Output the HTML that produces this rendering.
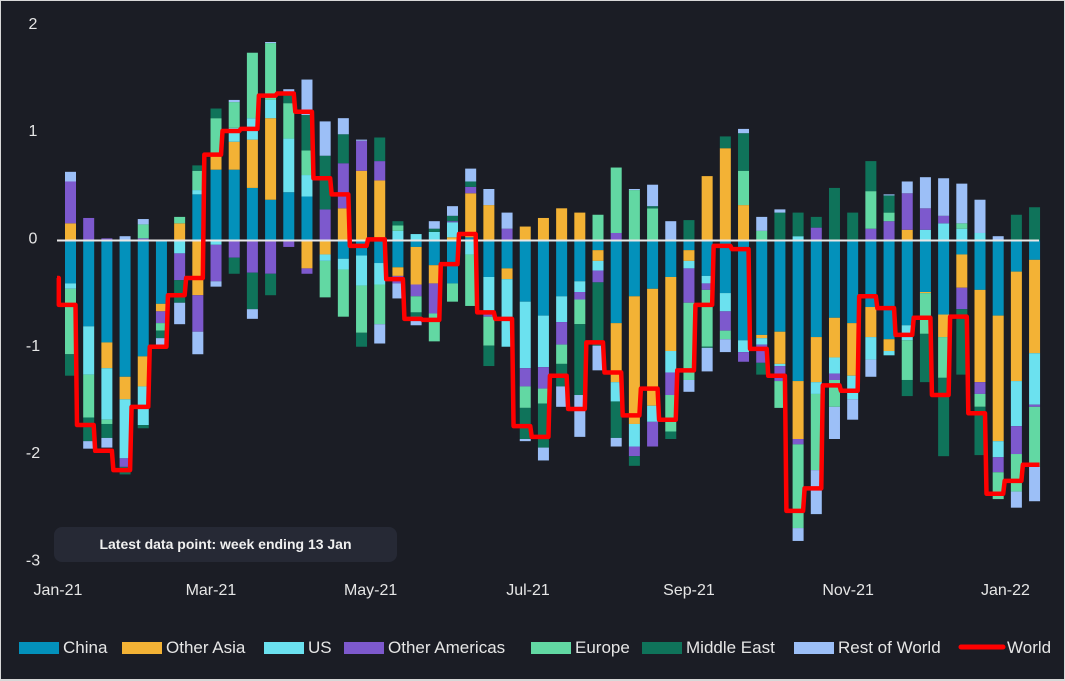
<!DOCTYPE html>
<html><head><meta charset="utf-8"><style>
html,body{margin:0;padding:0;background:#1b1d25;}
#wrap{position:relative;width:1065px;height:681px;background:#1b1d25;box-sizing:border-box;border:1px solid #d8d8d8;border-bottom:2px solid #d8d8d8;overflow:hidden;font-family:"Liberation Sans",sans-serif;}
svg text{font-family:"Liberation Sans",sans-serif;}
</style></head><body>
<div id="wrap">
<svg id="chart" width="1065" height="681" viewBox="0 0 1065 681"></svg>
</div>
<script>
const seriesNames=["China","Other Asia","US","Other Americas","Europe","Middle East","Rest of World"];
const seriesColors=["#0391bb","#f3b235","#6be1ef","#7d59cd","#62d8a3","#0f735a","#9cbff7"];
const china=[-0.40,-0.80,-0.95,-1.27,-1.08,-0.59,0,0.43,0.66,0.66,0.49,0.38,0.45,0.41,0,-0.17,-0.14,-0.21,-0.25,-0.06,-0.23,-0.40,0.03,-0.34,-0.26,-0.57,-0.70,-0.52,-0.38,-0.09,-0.77,-0.52,-0.45,-0.34,-0.09,-0.33,-0.49,-0.93,-0.88,-0.85,-1.31,-0.90,-0.72,-0.77,-0.62,-0.92,-0.79,-0.48,-0.69,-0.13,-0.46,-0.70,-0.29,-0.18];
const otherAsia=[0.16,0,-0.24,-0.21,-0.28,-0.07,0.16,-0.51,0.14,0.26,0.45,0.76,0,-0.26,-0.13,0.30,0.65,0.56,-0.08,-0.35,-0.17,0.03,0.41,0.33,-0.10,0.13,0.21,0.30,0.26,-0.10,-0.55,-1.19,-1.09,-0.69,-0.10,0.60,0.86,0.33,-0.03,-0.30,-0.54,-0.42,-0.37,-0.49,-0.28,-0.11,0.10,-0.01,-0.21,-0.31,-0.86,-1.17,-1.02,-0.87];
const us=[-0.05,-0.45,-0.48,-0.55,-0.36,0,-0.12,0.04,-0.04,0.13,0.20,0.17,0.50,0.20,-0.06,-0.10,-0.28,-0.20,0.09,0.06,0.08,0.14,-0.13,-0.32,-0.63,-0.62,-0.48,-0.24,-0.10,-0.09,-0.18,-0.21,-0.15,-0.20,-0.07,-0.07,-0.17,-0.11,-0.06,-0.02,0.04,-0.11,-0.15,-0.22,-0.21,-0.04,-0.14,0.10,0.16,0.11,0.07,-0.15,-0.42,-0.48];
const otherAmericas=[0.39,0.21,0.02,-0.08,0.02,-0.11,-0.25,-0.34,-0.34,-0.16,-0.30,-0.31,-0.06,-0.05,0.29,0.42,0.28,0.18,-0.07,-0.11,-0.28,0.01,0.06,-0.05,0.11,-0.17,-0.20,-0.21,-0.07,-0.11,0.07,-0.09,-0.23,-0.21,-0.32,-0.06,-0.18,-0.09,-0.17,-0.14,-0.05,0.12,-0.06,0,0.11,0.18,0.34,0.20,0.07,-0.20,-0.11,-0.14,-0.26,-0.02];
const europe=[-0.61,-0.40,-0.04,0,0.13,-0.07,0.06,0.18,0.34,0.24,0.61,0.53,0.33,0.23,-0.34,-0.44,-0.44,-0.37,0.05,-0.15,-0.26,-0.17,-0.48,-0.27,0,-0.20,-0.14,-0.18,-0.23,0.24,0.61,0.47,0.30,-0.34,-0.72,-0.53,-0.08,0.32,0.09,-0.25,-0.78,-0.71,-0.25,0,0.35,0.08,-0.37,-0.38,-0.38,0.05,-0.12,-0.25,-0.35,-0.56];
const middleEast=[-0.20,-0.22,-0.13,-0.07,-0.03,-0.07,-0.21,0.05,0.09,-0.15,-0.34,-0.20,0.08,0.33,0.50,0.27,-0.13,0.22,0.04,-0.04,0.03,0.05,0.05,-0.19,0,-0.29,-0.41,-0.21,-0.66,-0.59,-0.34,-0.09,0.02,-0.07,0.19,-0.01,0.11,0.35,-0.11,0.26,0.22,0.10,0.49,0.26,0.28,0.16,-0.15,-0.45,-0.73,-0.61,-0.45,0,0.24,0.31];
const restOfWorld=[0.09,-0.07,-0.09,0.04,0.05,-0.07,-0.20,-0.21,-0.05,0.02,-0.09,0.01,0.05,0.33,0.32,0.15,0.01,-0.18,-0.14,-0.08,0.07,0.09,0.12,0.15,0.15,-0.02,-0.12,-0.19,-0.39,-0.23,-0.08,0.01,0.20,0.18,-0.11,-0.22,-0.12,0.04,0.13,0.03,-0.12,-0.41,-0.30,-0.19,-0.16,0.01,0.11,0.29,0.35,0.37,0.31,0.04,-0.15,-0.32];
const world=[-0.60,-1.72,-1.96,-2.14,-1.55,-0.99,-0.51,-0.35,0.80,1.02,1.04,1.35,1.37,1.20,0.58,0.43,-0.05,0.01,-0.36,-0.73,-0.74,-0.22,0.06,-0.67,-0.73,-1.73,-1.83,-1.26,-1.57,-0.95,-1.23,-1.63,-1.38,-1.67,-1.21,-0.60,-0.05,-0.08,-1.01,-1.26,-2.52,-2.31,-1.35,-1.40,-0.52,-0.63,-0.88,-0.72,-1.44,-0.71,-1.61,-2.36,-2.24,-2.09];
const worldStart=-0.35;
const yTicks=[2,1,0,-1,-2,-3];
const xTickLabels=["Jan-21","Mar-21","May-21","Jul-21","Sep-21","Nov-21","Jan-22"];
const xTickWeeks=[-0.69,7.72,16.5,25.15,34.0,42.75,51.4];

const series=[china,otherAsia,us,otherAmericas,europe,middleEast,restOfWorld];
const NS="http://www.w3.org/2000/svg";
const svg=document.getElementById('chart');
const X0=69.5,DX=18.19,BW=11,Y0=239.5,PU=107.3;
const xs=i=>X0+i*DX;
const ys=v=>Y0-v*PU;
function mk(tag,attrs,parent){const e=document.createElementNS(NS,tag);for(const k in attrs)e.setAttribute(k,attrs[k]);(parent||svg).appendChild(e);return e;}

const yAxis=mk('g',{});


yTicks.forEach(t=>{const tx=mk('text',{x:32,y:ys(t)+3,'text-anchor':'middle','font-size':16,fill:'#e6e6e6'},yAxis);tx.textContent=t;

});

const xAxis=mk('g',{});


xTickLabels.forEach((l,i)=>{const tx=mk('text',{x:xs(xTickWeeks[i]),y:594,'text-anchor':'middle','font-size':16,fill:'#e6e6e6'},xAxis);tx.textContent=l;

});

const bars=mk('g',{});


for(let i=0;i<world.length;i++){
  let pos=0,neg=0;
  series.forEach((s,k)=>{
    const v=s[i];if(!v)return;
    let y1,y2;
    if(v>0){y1=ys(pos+v);y2=ys(pos);pos+=v;}else{y1=ys(neg);y2=ys(neg+v);neg+=v;}
    const r=mk('rect',{x:xs(i)-BW/2,y:y1,width:BW,height:Math.max(0,y2-y1),fill:seriesColors[k]},bars);
    
    
  });
}
const zl=mk('line',{x1:56,x2:1038,y1:Y0,y2:Y0,stroke:'#e8e8e8','stroke-width':2});



let d=`M56 ${ys(worldStart)} L${xs(-1)+5+1.5} ${ys(worldStart)}`;
for(let i=0;i<world.length;i++){
  const xa=xs(i-1)+5, xb=xs(i)+5;
  d+=` L${xa+1.5} ${ys(world[i])} L${xb} ${ys(world[i])}`;
}
const wl=mk('path',{d:d,fill:'none',stroke:'#ff0000','stroke-width':4.5,'stroke-linejoin':'round'});



const ann=mk('g',{});


mk('rect',{x:53,y:526,width:343,height:35,rx:8,fill:'#262935'},ann);
const at=mk('text',{x:224.5,y:548,'text-anchor':'middle','font-size':14,'font-weight':'bold',fill:'#f0f0f0'},ann);
at.textContent='Latest data point: week ending 13 Jan';

const legend=mk('g',{});


const legX=[18,121,263,343,530,641,793];
seriesNames.forEach((n,k)=>{
  const g=mk('g',{},legend);
  
  
  mk('rect',{x:legX[k],y:641,width:40,height:12,fill:seriesColors[k]},g);
  const t=mk('text',{x:legX[k]+44,y:652,'font-size':17,fill:'#e6e6e6'},g);t.textContent=n;
});
const gw=mk('g',{},legend);


mk('line',{x1:960,x2:1002,y1:646,y2:646,stroke:'#ff0000','stroke-width':5,'stroke-linecap':'round'},gw);
const wt=mk('text',{x:1006,y:652,'font-size':17,fill:'#e6e6e6'},gw);wt.textContent='World';
</script>
</body></html>
